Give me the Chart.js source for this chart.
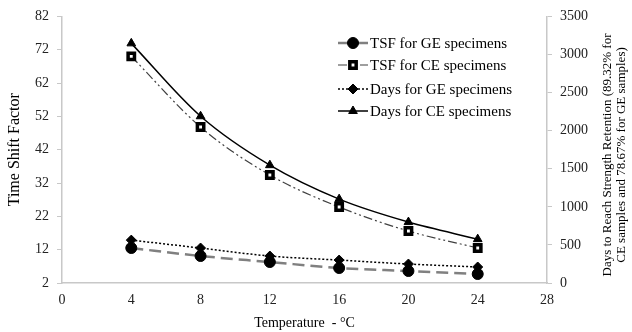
<!DOCTYPE html>
<html>
<head>
<meta charset="utf-8">
<script src="https://cdn.jsdelivr.net/npm/chart.js@4"></script>
<style>
  html, body { margin: 0; padding: 0; background: #fff; }
  #wrap { width: 632px; height: 332px; }
</style>
</head>
<body>
<div id="wrap"><canvas id="tsfChart" width="632" height="332"></canvas></div>
<script>
const temps = [4, 8, 12, 16, 20, 24];
const tsfGE = [12.5, 10.1, 8.3, 6.5, 5.6, 4.7];
const tsfCE = [70, 48.8, 34.4, 24.8, 17.6, 12.5];
const daysGE = [563, 459, 354, 301, 249, 210];
const daysCE = [3146, 2189, 1547, 1101, 800, 576];

const serif = "'Liberation Serif', 'Times New Roman', serif";
const axisGray = "#c8c8c8";

function toXY(ys) {
  return temps.map((t, i) => ({ x: t, y: ys[i] }));
}

// legend drawn inside the plot area like the original
const insideLegend = {
  id: "insideLegend",
  afterDraw(chart) {
    const ctx = chart.ctx;
    const rows = [43, 65, 89, 111];
    ctx.save();
    chart.data.datasets.forEach((ds, i) => {
      const y = rows[i];
      ctx.strokeStyle = ds.borderColor;
      ctx.lineWidth = ds.borderWidth;
      ctx.setLineDash(ds.borderDash || []);
      ctx.beginPath();
      ctx.moveTo(338, y);
      ctx.lineTo(368, y);
      ctx.stroke();
      ctx.setLineDash([]);
      ctx.fillStyle = ds.pointBackgroundColor;
      ctx.strokeStyle = ds.pointBorderColor;
      ctx.lineWidth = ds.pointBorderWidth || 1;
      Chart.helpers.drawPoint(ctx, {
        pointStyle: ds.pointStyle,
        radius: ds.pointRadius,
        rotation: 0,
        borderWidth: ds.pointBorderWidth || 1,
      }, 353, y);
      ctx.fillStyle = "#000";
      ctx.font = "15px " + serif;
      ctx.textBaseline = "middle";
      ctx.fillText(ds.label, 370, y + 1);
    });
    ctx.restore();
  },
};

// right axis title reads bottom-to-top, two lines
const rightTitle = {
  id: "rightTitle",
  afterDraw(chart) {
    const ctx = chart.ctx;
    ctx.save();
    ctx.translate(615, 155);
    ctx.rotate(-Math.PI / 2);
    ctx.fillStyle = "#000";
    ctx.font = "13px " + serif;
    ctx.textAlign = "center";
    ctx.textBaseline = "middle";
    ctx.fillText("Days to Reach Strength Retention (89.32% for", 0, -7);
    ctx.fillText("CE samples and 78.67% for GE samples)", 0, 7);
    ctx.restore();
  },
};

new Chart(document.getElementById("tsfChart"), {
  type: "line",
  data: {
    datasets: [
      {
        label: "TSF for GE specimens",
        data: toXY(tsfGE),
        yAxisID: "y",
        borderColor: "#808080",
        borderWidth: 2.5,
        borderDash: [12, 6],
        pointStyle: "circle",
        pointRadius: 5.5,
        pointBackgroundColor: "#000",
        pointBorderColor: "#000",
        pointBorderWidth: 1,
      },
      {
        label: "TSF for CE specimens",
        data: toXY(tsfCE),
        yAxisID: "y",
        borderColor: "#404040",
        borderWidth: 1.2,
        borderDash: [9, 3, 2, 3, 2, 3],
        pointStyle: "rect",
        pointRadius: 4.5,
        pointBackgroundColor: "#fff",
        pointBorderColor: "#000",
        pointBorderWidth: 3.5,
      },
      {
        label: "Days for GE specimens",
        data: toXY(daysGE),
        yAxisID: "y1",
        borderColor: "#000",
        borderWidth: 1.5,
        borderDash: [2, 2],
        pointStyle: "rectRot",
        pointRadius: 5,
        pointBackgroundColor: "#000",
        pointBorderColor: "#000",
        pointBorderWidth: 1,
      },
      {
        label: "Days for CE specimens",
        data: toXY(daysCE),
        yAxisID: "y1",
        borderColor: "#000",
        borderWidth: 1.5,
        pointStyle: "triangle",
        pointRadius: 5,
        pointBackgroundColor: "#000",
        pointBorderColor: "#000",
        pointBorderWidth: 1,
      },
    ],
  },
  options: {
    responsive: false,
    animation: false,
    layout: { padding: { top: 16, left: 0, right: 0, bottom: 0 } },
    elements: { line: { tension: 0.4, cubicInterpolationMode: "monotone", fill: false } },
    scales: {
      x: {
        type: "linear",
        min: 0,
        max: 28,
        ticks: { stepSize: 4, color: "#222", font: { family: serif, size: 14 }, padding: 9 },
        grid: { drawOnChartArea: false, drawTicks: false },
        border: { color: axisGray, width: 1.5 },
        title: {
          display: true,
          text: "Temperature  - °C",
          color: "#000",
          font: { family: serif, size: 14 },
          padding: { top: 2, bottom: 0 },
        },
        afterFit(scale) { scale.height = 49; },
      },
      y: {
        position: "left",
        min: 2,
        max: 82,
        ticks: { stepSize: 10, color: "#222", font: { family: serif, size: 14 }, padding: 8 },
        grid: { drawOnChartArea: false, drawTicks: true, tickLength: 5, color: axisGray },
        border: { color: axisGray, width: 1.5 },
        title: {
          display: true,
          text: "Time Shift Factor",
          color: "#000",
          font: { family: serif, size: 16 },
          padding: { top: 5, bottom: 0 },
        },
        afterFit(scale) { scale.width = 62; },
      },
      y1: {
        position: "right",
        min: 0,
        max: 3500,
        ticks: {
          stepSize: 500,
          color: "#222",
          font: { family: serif, size: 14 },
          padding: 8,
          callback: (v) => String(v),
        },
        grid: { drawOnChartArea: false, drawTicks: true, tickLength: 5, color: axisGray },
        border: { color: axisGray, width: 1.5 },
        afterFit(scale) { scale.width = 85; },
      },
    },
    plugins: {
      legend: { display: false },
      tooltip: { enabled: false },
    },
  },
  plugins: [insideLegend, rightTitle],
});
</script>
</body>
</html>
